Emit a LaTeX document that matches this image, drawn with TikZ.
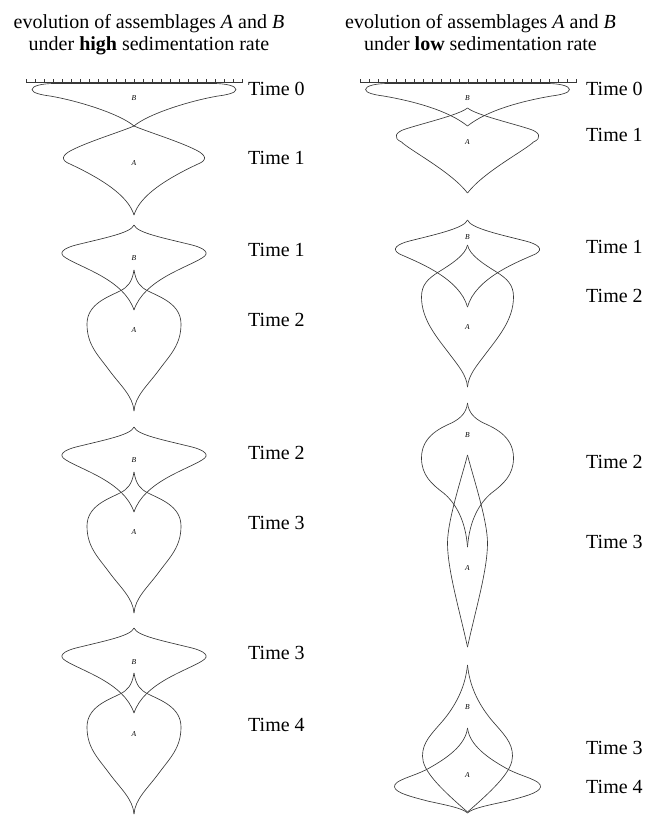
\documentclass[tikz,border=0pt]{standalone}
\usepackage{fontspec}
\setmainfont{Liberation Serif}
\newcommand{\twin}[2]{\draw[outline,shift={(#1,0)}] #2; \draw[outline,shift={(#1,0)},xscale=-1] #2;}
\newcommand{\lpair}[1]{%
\begin{scope}[shift={(0,#1)}]
\twin{134}{(0,225) .. controls (-3,233) and (-30,238) .. (-58,245) .. controls (-70,248) and (-77,253) .. (-68,258) .. controls (-52,268) and (-10,280) .. (0,310)}
\twin{134}{(0,270) .. controls (-2,282) and (-6,287) .. (-14,291) .. controls (-26,297) and (-47,304) .. (-47,324) .. controls (-47,345) and (-36,355) .. (-25,370) .. controls (-14,385) and (-1,396) .. (0,411)}
\end{scope}}
\begin{document}
\begin{tikzpicture}[x=1pt,y=-1pt,
  outline/.style={line width=0.65pt, draw=black!78, line join=round},
  tick/.style={line width=0.5pt, draw=black!78},
  timelab/.style={anchor=base west, inner sep=0pt, font=\fontsize{20}{23}\selectfont},
  ttl/.style={anchor=base, inner sep=0pt, font=\fontsize{20}{23}\selectfont},
  sp/.style={inner sep=0pt, font=\fontsize{7.5}{8}\selectfont\itshape}]
\useasboundingbox (0,0) rectangle (646,816);

% titles
\node[ttl] (tl1) at (149,28.5) {evolution of assemblages \textit{A} and \textit{B}};
\node[ttl] (tl2) at (149,50.5) {under \textbf{high} sedimentation rate};
\node[ttl] (tr1) at (480.5,28.5) {evolution of assemblages \textit{A} and \textit{B}};
\node[ttl] (tr2) at (480.5,50.5) {under \textbf{low} sedimentation rate};

% rulers
\draw[outline] (26,82.5) -- (242,82.5);
\foreach \i in {0,...,24} \draw[tick] (26+9*\i,82.5) -- (26+9*\i,79);
\draw[outline] (360,82.5) -- (576,82.5);
\foreach \i in {0,...,24} \draw[tick] (360+9*\i,82.5) -- (360+9*\i,79);

% ---------- left column ----------
\twin{134}{(0,83.5) -- (-80,83.5) .. controls (-92,83.5) and (-102,86) .. (-102,89.5) .. controls (-102,93) and (-92,95) .. (-84,96) .. controls (-55,101) and (-14,114) .. (0,126)}
\twin{134}{(0,126) .. controls (-14,132) and (-44,141) .. (-62,150) .. controls (-72,155) and (-74,160) .. (-64,164) .. controls (-34,178) and (-6,195) .. (0,215)}
\lpair{0}
\lpair{202}
\lpair{403}

\node[sp] (lb0) at (134,98) {B};
\node[sp] (la1) at (134,163) {A};
\node[sp] (lb1) at (134,258) {B};
\node[sp] (la2) at (134,330) {A};
\node[sp] (lb2) at (134,460) {B};
\node[sp] (la3) at (134,532) {A};
\node[sp] (lb3) at (134,662) {B};
\node[sp] (la4) at (134,734) {A};

\node[timelab] (lt0) at (248,95.5) {Time 0};
\node[timelab] (lt1) at (248,164.5) {Time 1};
\node[timelab] (lt1b) at (248,256.5) {Time 1};
\node[timelab] (lt2) at (248,326.5) {Time 2};
\node[timelab] (lt2b) at (248,459.5) {Time 2};
\node[timelab] (lt3) at (248,529.5) {Time 3};
\node[timelab] (lt3b) at (248,659.5) {Time 3};
\node[timelab] (lt4) at (248,731.5) {Time 4};

% ---------- right column ----------
\twin{467.5}{(0,83.5) -- (-80,83.5) .. controls (-92,83.5) and (-102,86) .. (-102,89.5) .. controls (-102,93) and (-92,95) .. (-84,96) .. controls (-55,101) and (-20,110) .. (0,126)}
\twin{467.5}{(0,108) .. controls (-9,115) and (-40,122) .. (-62,129) .. controls (-72,132) and (-75,138) .. (-66,142) .. controls (-58,150) and (-16,172) .. (0,193)}
\twin{467.5}{(0,220) .. controls (-3,228) and (-30,234) .. (-58,241) .. controls (-70,244) and (-77,249) .. (-68,254) .. controls (-50,262) and (-8,278) .. (0,307)}
\twin{467.5}{(0,245) .. controls (-2,255) and (-16,264) .. (-29,272) .. controls (-40,279) and (-46,285) .. (-46,297) .. controls (-46,320) and (-30,338) .. (-18,354) .. controls (-9,366) and (-1,375) .. (0,387)}
\twin{467.5}{(0,403) .. controls (-1,412) and (-6,418) .. (-16,423) .. controls (-30,429) and (-46,438) .. (-46,458) .. controls (-46,475) and (-36,484) .. (-24,493) .. controls (-12,503) and (-2,520) .. (0,547)}
\twin{467.5}{(0,455) .. controls (-5,475) and (-20,520) .. (-20,543) .. controls (-20,570) and (-8,610) .. (0,647)}
\twin{467.5}{(0,665) .. controls (-2,685) and (-10,703) .. (-24,720) .. controls (-36,734) and (-45,742) .. (-45,756) .. controls (-45,770) and (-30,786) .. (0,812)}
\twin{467.5}{(0,728) .. controls (-2,745) and (-20,758) .. (-40,769) .. controls (-55,777) and (-74,780) .. (-73,787) .. controls (-72,793) and (-55,797) .. (-40,801) .. controls (-22,805) and (-5,808) .. (0,813)}

\node[sp] (rb0) at (467.5,98) {B};
\node[sp] (ra1) at (467.5,142) {A};
\node[sp] (rb1) at (467.5,237) {B};
\node[sp] (ra2) at (467.5,327) {A};
\node[sp] (rb2) at (467.5,435) {B};
\node[sp] (ra3) at (467.5,568) {A};
\node[sp] (rb3) at (467.5,707) {B};
\node[sp] (ra4) at (467.5,775) {A};

\node[timelab] (rt0) at (586,95.5) {Time 0};
\node[timelab] (rt1) at (586,141.5) {Time 1};
\node[timelab] (rt1b) at (586,253.5) {Time 1};
\node[timelab] (rt2) at (586,302.5) {Time 2};
\node[timelab] (rt2b) at (586,468.5) {Time 2};
\node[timelab] (rt3) at (586,548.5) {Time 3};
\node[timelab] (rt3b) at (586,754.5) {Time 3};
\node[timelab] (rt4) at (586,793.5) {Time 4};
\end{tikzpicture}
\end{document}
